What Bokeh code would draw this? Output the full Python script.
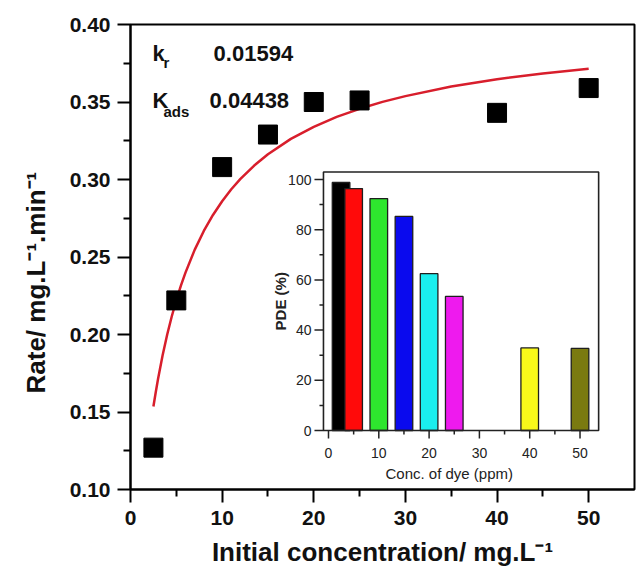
import math
from bokeh.plotting import figure
from bokeh.models import Range1d, FixedTicker, Title
from bokeh.core.properties import value
from bokeh.embed import file_html
from bokeh.resources import INLINE

# ---------------- data ----------------
conc = [2.5, 5, 10, 15, 20, 25, 40, 50]
rate = [0.127, 0.222, 0.308, 0.329, 0.350, 0.351, 0.343, 0.359]

fit_x = [2.5, 2.75, 3, 3.5, 4, 4.5, 5, 5.5, 6, 7, 8, 9, 10, 11, 12, 13.5, 15,
         17.5, 20, 22.5, 25, 27.5, 30, 35, 40, 45, 50]
fit_y = [0.1535, 0.1626, 0.1711, 0.1864, 0.1998, 0.2116, 0.2221, 0.2315, 0.2399,
         0.2546, 0.2668, 0.2771, 0.2860, 0.2937, 0.3004, 0.3090, 0.3163,
         0.3262, 0.3340, 0.3404, 0.3456, 0.3501, 0.3538, 0.3600, 0.3647, 0.3684, 0.3715]

pde_conc = [2.5, 5, 10, 15, 20, 25, 40, 50]
pde = [98.8, 96.4, 92.4, 85.3, 62.5, 53.4, 32.9, 32.7]
bar_colors = ["#000000", "#ff0a0a", "#2ee62e", "#0a0aee", "#1aeeee",
              "#ee1aee", "#f8f81a", "#7a7a10"]

x_ticks = [0, 10, 20, 30, 40, 50]
x_minor = [5, 15, 25, 35, 45]
y_ticks = [0.10, 0.15, 0.20, 0.25, 0.30, 0.35, 0.40]
y_minor = [0.125, 0.175, 0.225, 0.275, 0.325, 0.375]
y_tick_labels = ["0.10", "0.15", "0.20", "0.25", "0.30", "0.35", "0.40"]

inset_x_ticks = [0, 10, 20, 30, 40, 50]
inset_x_minor = [5, 15, 25, 35, 45]
inset_y_ticks = [0, 20, 40, 60, 80, 100]
inset_y_minor = [10, 30, 50, 70, 90]

kr_text = "0.01594"
kads_text = "0.04438"
x_title = "Initial concentration/ mg.L\u207b\u00b9"
y_title = "Rate/ mg.L\u207b\u00b9.min\u207b\u00b9"

# inset box (in inset data units)
ix0, ix1 = -1.0, 53.7
iy0, iy1 = 0.0, 103.0

F = value("Liberation Sans")

p = figure(width=636, height=573, output_backend="svg", toolbar_location=None,
           x_range=Range1d(0, 55), y_range=Range1d(0.10, 0.40),
           min_border_left=130, min_border_right=2, min_border_top=24,
           min_border_bottom=84)
p.extra_x_ranges = {"ix": Range1d(-39.36, 60.83)}
p.extra_y_ranges = {"iy": Range1d(-23.5, 161.75)}

p.xgrid.visible = False
p.ygrid.visible = False
p.outline_line_color = "black"
p.outline_line_width = 2
p.background_fill_color = "white"
p.border_fill_color = "white"

for ax in (p.xaxis[0], p.yaxis[0]):
    ax.axis_line_width = 2
    ax.major_tick_line_width = 2
    ax.minor_tick_line_width = 2
    ax.major_tick_in = 0
    ax.major_tick_out = 13
    ax.minor_tick_in = 0
    ax.minor_tick_out = 7
    ax.major_label_text_font = "Liberation Sans"
    ax.major_label_text_font_style = "bold"
    ax.major_label_text_font_size = "21px"
    ax.major_label_text_color = "#111111"
    ax.axis_label_text_font = "Liberation Sans"
    ax.axis_label_text_font_style = "bold"
    ax.axis_label_text_font_size = "26px"
    ax.axis_label_text_color = "#111111"

p.xaxis.ticker = FixedTicker(ticks=x_ticks, minor_ticks=x_minor)
p.yaxis.ticker = FixedTicker(ticks=y_ticks, minor_ticks=y_minor)
p.yaxis.major_label_overrides = {t: l for t, l in zip(y_ticks, y_tick_labels)}
p.xaxis.major_label_standoff = 8
p.yaxis.major_label_standoff = 7
p.xaxis.axis_label_standoff = 9
p.xaxis.axis_label = x_title

# y title placed in the left panel, starting lower as in the original
p.add_layout(Title(text=y_title, align="left", offset=96, standoff=32,
                   text_font="Liberation Sans", text_font_style="bold",
                   text_font_size="26px", text_color="#111111"), "left")

# main data
p.line(fit_x, fit_y, line_color="#d81e2c", line_width=2.5)
p.scatter(conc, rate, marker="square", size=19, fill_color="black", line_color="black")

# annotations
def lab(x, y, t, size):
    p.text(x=[x], y=[y], text=[t], text_font=F, text_font_style="bold",
           text_font_size=value(size), text_align="left", text_baseline="alphabetic",
           text_color="#111111")

lab(2.4, 0.3813, "k", "22px")
lab(3.6, 0.3755, "r", "15px")
lab(9.07, 0.3813, kr_text, "22px")
lab(2.4, 0.351, "K", "22px")
lab(3.6, 0.3439, "ads", "15px")
lab(8.63, 0.351, kads_text, "22px")

# ---------------- inset ----------------
R = dict(x_range_name="ix", y_range_name="iy")
p.quad(left=[ix0], right=[ix1], bottom=[iy0], top=[iy1], fill_color="white",
       line_color=None, **R)
p.vbar(x=pde_conc, top=pde, bottom=0, width=3.5, fill_color=bar_colors,
       line_color="#1e1e1e", line_width=1.3, **R)
p.quad(left=[ix0], right=[ix1], bottom=[iy0], top=[iy1], fill_color=None,
       line_color="#222222", line_width=1.6, **R)

# inset ticks
p.ray(x=inset_x_ticks, y=[iy0] * len(inset_x_ticks), length=8, angle=-math.pi / 2,
      length_units="screen", line_color="#222222", line_width=1.5, **R)
p.ray(x=inset_x_minor, y=[iy0] * len(inset_x_minor), length=4, angle=-math.pi / 2,
      length_units="screen", line_color="#222222", line_width=1.5, **R)
p.ray(x=[ix0] * len(inset_y_ticks), y=inset_y_ticks, length=9, angle=math.pi,
      length_units="screen", line_color="#222222", line_width=1.5, **R)
p.ray(x=[ix0] * len(inset_y_minor), y=inset_y_minor, length=4, angle=math.pi,
      length_units="screen", line_color="#222222", line_width=1.5, **R)

p.text(x=inset_x_ticks, y=[iy0] * len(inset_x_ticks), text=[str(t) for t in inset_x_ticks],
       text_font=F, text_font_size=value("14px"), text_align="center",
       text_baseline="middle", y_offset=22, text_color="#222222", **R)
p.text(x=[ix0] * len(inset_y_ticks), y=inset_y_ticks, text=[str(t) for t in inset_y_ticks],
       text_font=F, text_font_size=value("14px"), text_align="right",
       text_baseline="middle", x_offset=-12, text_color="#222222", **R)
p.text(x=[24], y=[iy0], text=["Conc. of dye (ppm)"], text_font=F,
       text_font_size=value("15px"), text_align="center", text_baseline="middle",
       y_offset=43, text_color="#222222", **R)
p.text(x=[ix0], y=[51.5], text=["PDE (%)"], text_font=F, text_font_style="bold",
       text_font_size=value("15px"), text_align="center", text_baseline="middle",
       x_offset=-43, angle=math.pi / 2, text_color="#222222", **R)

open("out.html", "w").write(file_html(p, INLINE))
